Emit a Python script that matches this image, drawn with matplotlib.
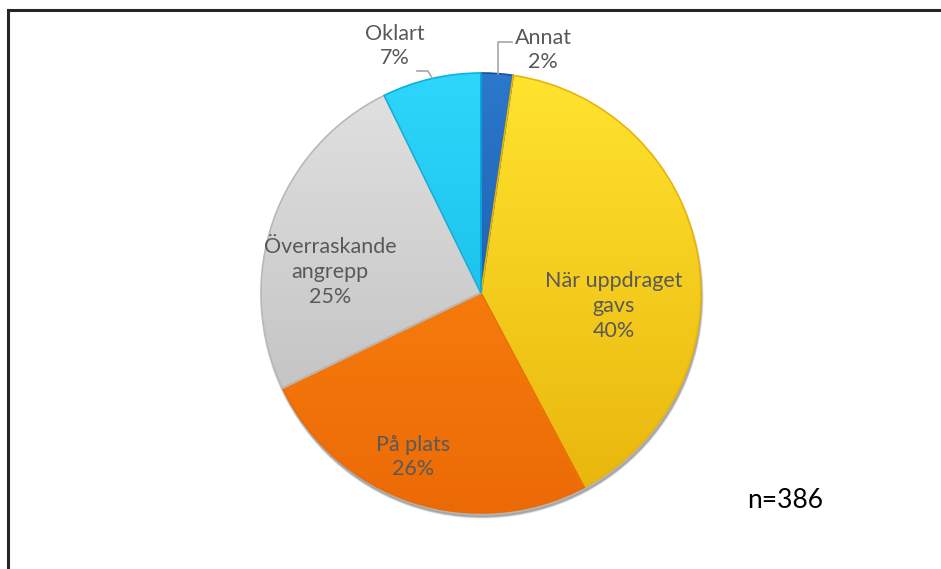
import numpy as np
import matplotlib
matplotlib.use("Agg")
import matplotlib.pyplot as plt
from matplotlib.patches import Wedge, Circle
from matplotlib.colors import LinearSegmentedColormap

plt.rcParams['font.family'] = ['Lato', 'DejaVu Sans']

# data (counts, n=386)
categories = ["Annat", "När uppdraget\ngavs", "På plats", "Överraskande\nangrepp", "Oklart"]
counts = [9, 154, 99, 96, 28]
n_total = sum(counts)
percent = [round(100 * c / n_total) for c in counts]

# top and bottom shade of each slice (light -> dark)
shades = [("#2b78cc", "#124f9c"),
          ("#ffe42e", "#e8b40c"),
          ("#ff8c12", "#ec6a06"),
          ("#e2e2e2", "#b9b9b9"),
          ("#2fd6fb", "#08b2e0")]

# label position in pixels (x, y from top)
label_pos = [(543, 50), (614, 306), (413, 457), (330, 272), (395, 46)]

W, H = 941, 569
fig = plt.figure(figsize=(W / 100, H / 100), dpi=100)
ax = fig.add_axes([0, 0, 1, 1])

cx, cy, r = 481, H - 293, 220

# soft shadow under the pie
for k in range(8):
    ax.add_patch(Circle((cx + 1, cy - 4), r + 1 - k * 0.3, color="black",
                        alpha=0.04, zorder=0))

wedges, _ = ax.pie(counts, startangle=90, counterclock=False,
                   center=(cx, cy), radius=r,
                   wedgeprops=dict(linewidth=0.8, edgecolor="none"))

grad = np.linspace(1, 0, 256).reshape(-1, 1)
for w, (top, bot) in zip(wedges, shades):
    w.set_facecolor(bot)
    cmap = LinearSegmentedColormap.from_list("g", [bot, top])
    im = ax.imshow(grad, cmap=cmap, extent=(cx - r, cx + r, cy - r, cy + r),
                   origin="upper", aspect="auto", zorder=2)
    im.set_clip_path(w)
    # darker rim
    ax.add_patch(Wedge((cx, cy), r, w.theta1, w.theta2, fill=False,
                       edgecolor=bot, linewidth=1.2, zorder=3))

for lab, pct, (px, py) in zip(categories, percent, label_pos):
    ax.text(px, H - py, f"{lab}\n{pct}%", ha="center", va="center",
            fontsize=15.5, color="#595959", linespacing=1.3, zorder=5)

# leader lines for the small slices
ax.plot([512, 498, 498], [H - 42, H - 42, H - 74], color="#a6a6a6", lw=1.2, zorder=4)
ax.plot([417, 428, 432], [H - 71, H - 71, H - 78], color="#a6a6a6", lw=1.2, zorder=4)

ax.text(785, H - 501, f"n={n_total}", ha="center", va="center",
        fontsize=19, color="black")

# frame (top and left edges visible)
ax.plot([8.5, W], [H - 9.5, H - 9.5], color="#262626", lw=2.2, zorder=6)
ax.plot([8.5, 8.5], [0, H - 9.5], color="#262626", lw=2.2, zorder=6)

ax.set_xlim(0, W)
ax.set_ylim(0, H)
ax.set_aspect("equal")
ax.axis("off")

fig.savefig("out.png", dpi=100)
